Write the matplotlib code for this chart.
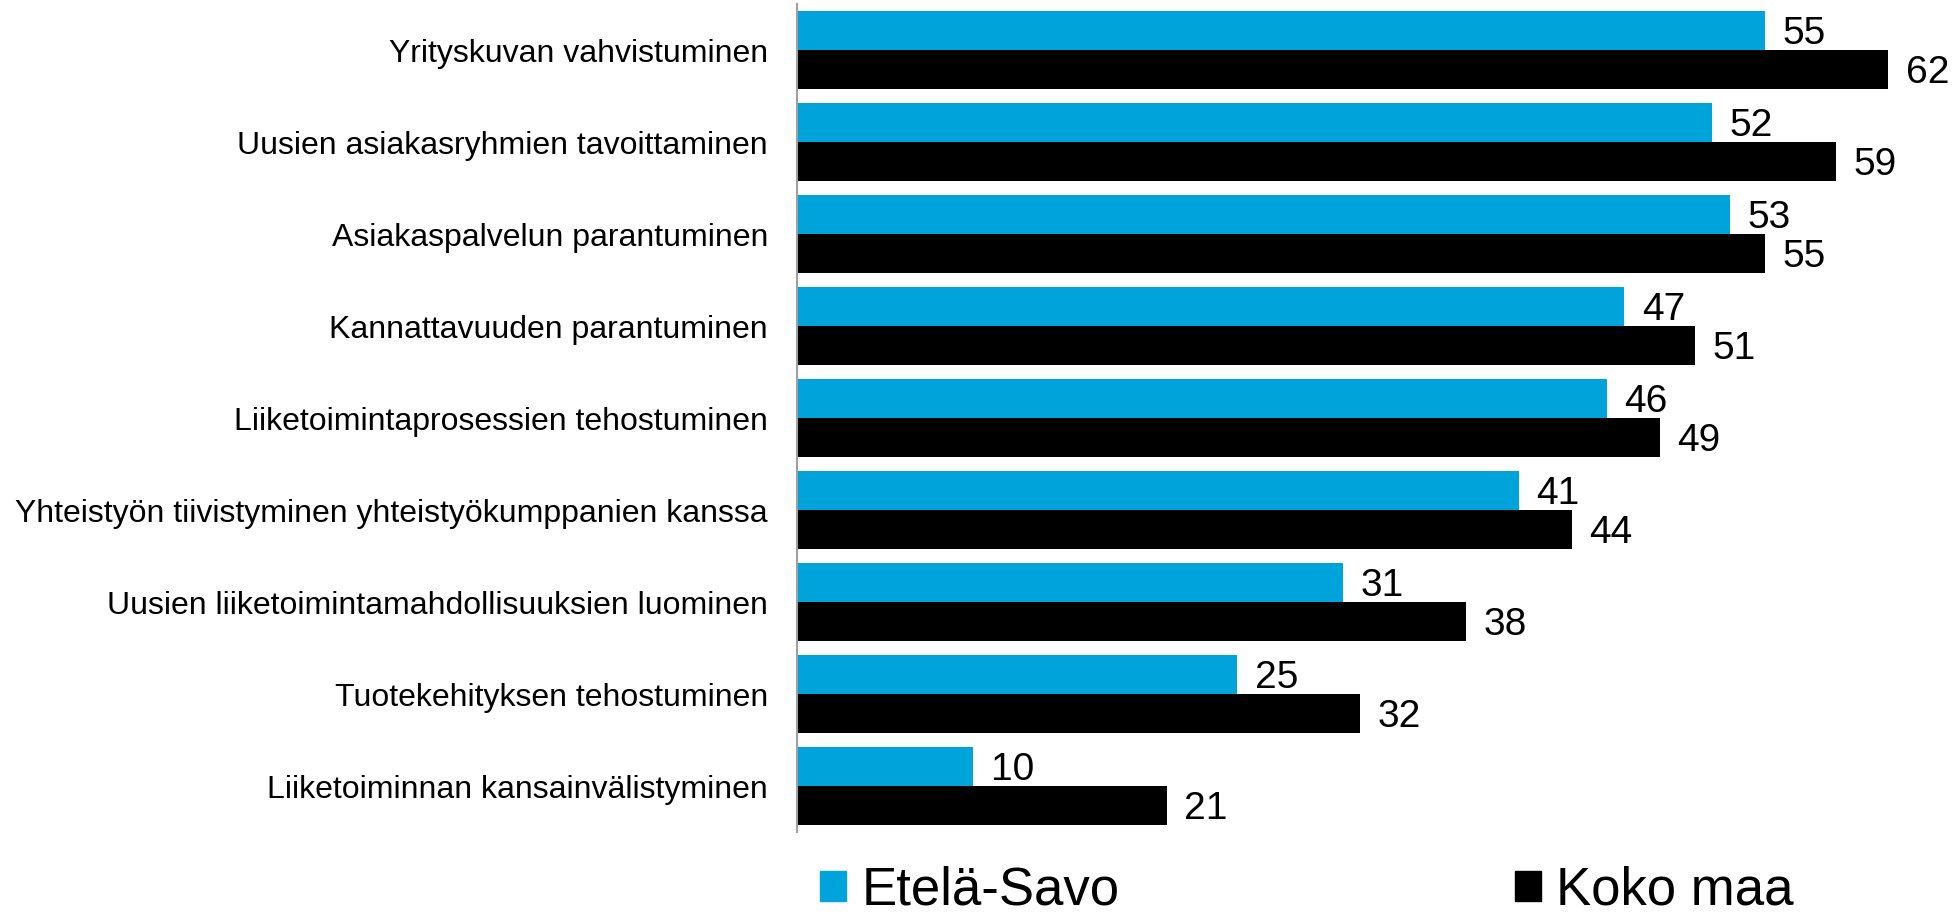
import matplotlib
matplotlib.use("Agg")
import matplotlib.pyplot as plt
from matplotlib.patches import Patch
import numpy as np

plt.rcParams["font.family"] = ["Liberation Sans", "DejaVu Sans"]

categories = [
    "Yrityskuvan vahvistuminen",
    "Uusien asiakasryhmien tavoittaminen",
    "Asiakaspalvelun parantuminen",
    "Kannattavuuden parantuminen",
    "Liiketoimintaprosessien tehostuminen",
    "Yhteistyön tiivistyminen yhteistyökumppanien kanssa",
    "Uusien liiketoimintamahdollisuuksien luominen",
    "Tuotekehityksen tehostuminen",
    "Liiketoiminnan kansainvälistyminen",
]
etela_savo = [55, 52, 53, 47, 46, 41, 31, 25, 10]
koko_maa = [62, 59, 55, 51, 49, 44, 38, 32, 21]
series_names = ["Etelä-Savo", "Koko maa"]

blue = "#00A3DA"
black = "#000000"

fig = plt.figure(figsize=(19.57, 9.15), dpi=100)
ax = fig.add_axes([0.4073, 0.0907, 0.5927, 0.9049])

y = np.arange(len(categories))
h = 0.42
ax.barh(y - h / 2, etela_savo, height=h, color=blue)
ax.barh(y + h / 2, koko_maa, height=h, color=black)

for i in range(len(categories)):
    ax.text(etela_savo[i] + 1.0, y[i] - h / 2 + 0.04, str(etela_savo[i]),
            va="center", ha="left", fontsize=28)
    ax.text(koko_maa[i] + 1.0, y[i] + h / 2 + 0.04, str(koko_maa[i]),
            va="center", ha="left", fontsize=28)

ax.set_xlim(0, 65.9)
ax.set_ylim(len(categories) - 0.5, -0.5)
ax.set_yticks(y)
ax.set_yticklabels(categories, fontsize=23)
ax.tick_params(axis="y", length=0, pad=21)
ax.set_xticks([])
for s in ["top", "right", "bottom"]:
    ax.spines[s].set_visible(False)
ax.spines["left"].set_color("#A0A0A0")
ax.spines["left"].set_linewidth(1.5)

handles = [Patch(color=blue), Patch(color=black)]
fig.legend(handles, series_names, loc="center left", bbox_to_anchor=(0.419, 0.027),
           ncol=2, frameon=False, fontsize=38, handlelength=0.5, handleheight=0.5,
           handletextpad=0.28, columnspacing=7.5, borderaxespad=0, borderpad=0)

fig.savefig("out.png", dpi=100)
plt.close(fig)
